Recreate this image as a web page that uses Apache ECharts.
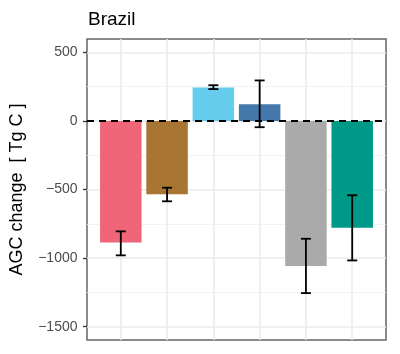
<!DOCTYPE html>
<html>
<head>
<meta charset="utf-8">
<title>Brazil AGC change</title>
<script src="https://cdn.jsdelivr.net/npm/echarts@6/dist/echarts.min.js"></script>
<style>
  html, body { margin: 0; padding: 0; background: #fff; }
  #chart { width: 400px; height: 354px; }
</style>
</head>
<body>
<div id="chart"></div>
<script type="text/javascript">
// data
var categories = [1, 2, 3, 4, 5, 6];
var values = [-887, -535, 244, 122, -1058, -778];
var errLow = [-980, -586, 232, -46, -1255, -1017];
var errHigh = [-805, -487, 260, 295, -859, -542];
var colors = ['#EE6677', '#A87533', '#66CCEE', '#4477AA', '#AAAAAA', '#009988'];
var yTicks = [-1500, -1000, -500, 0, 500];
var yMinor = [-1250, -750, -250, 250];

var chart = echarts.init(document.getElementById('chart'));
var font = 'Liberation Sans, Arial, sans-serif';

var gridLines = [];
yTicks.forEach(function (v) {
    gridLines.push({ yAxis: v, lineStyle: { color: '#EBEBEB', width: 1.6, type: 'solid' } });
});
yMinor.forEach(function (v) {
    gridLines.push({ yAxis: v, lineStyle: { color: '#F0F0F0', width: 0.9, type: 'solid' } });
});
categories.forEach(function (c) {
    gridLines.push({ xAxis: c, lineStyle: { color: '#EBEBEB', width: 1.6, type: 'solid' } });
});

chart.setOption({
    animation: false,
    title: {
        text: 'Brazil',
        left: 83,
        top: 5,
        textStyle: { fontFamily: font, fontSize: 19, fontWeight: 'normal', color: '#000' }
    },
    grid: {
        left: 87, top: 39, right: 14, bottom: 14,
        show: true, borderColor: '#666', borderWidth: 1.5, backgroundColor: '#fff'
    },
    xAxis: {
        type: 'value',
        min: 0.27, max: 6.73,
        axisLine: { show: false }, axisTick: { show: false },
        axisLabel: { show: false }, splitLine: { show: false }
    },
    yAxis: {
        type: 'value',
        min: -1597, max: 597,
        name: 'AGC change  [ Tg C ]',
        nameLocation: 'middle',
        nameGap: 61,
        nameTextStyle: { fontFamily: font, fontSize: 18, color: '#000' },
        axisLine: { show: false },
        axisTick: { show: true, length: 4, customValues: yTicks, lineStyle: { color: '#333', width: 1.3 } },
        axisLabel: {
            customValues: yTicks, margin: 9.5, fontFamily: font, fontSize: 14, color: '#4D4D4D',
            formatter: function (v) { return String(v).replace('-', '\u2212'); }
        },
        splitLine: { show: false }
    },
    series: [
        {
            type: 'line',
            data: [],
            silent: true,
            markLine: { silent: true, symbol: 'none', label: { show: false }, z: 0, data: gridLines }
        },
        {
            type: 'bar',
            barWidth: 41.5,
            z: 2,
            data: categories.map(function (c, i) {
                return { value: [c, values[i]], itemStyle: { color: colors[i] } };
            }),
            markLine: {
                silent: true, symbol: 'none', label: { show: false },
                data: [{ yAxis: 0, lineStyle: { color: '#000', width: 1.8, type: [7, 5] } }]
            }
        },
        {
            type: 'custom',
            z: 5,
            data: categories.map(function (c, i) { return [c, errLow[i], errHigh[i]]; }),
            renderItem: function (params, api) {
                var lo = api.coord([api.value(0), api.value(1)]);
                var hi = api.coord([api.value(0), api.value(2)]);
                var hw = 5;
                var st = { stroke: '#000', lineWidth: 1.8 };
                return {
                    type: 'group',
                    children: [
                        { type: 'line', shape: { x1: lo[0], y1: lo[1], x2: hi[0], y2: hi[1] }, style: st },
                        { type: 'line', shape: { x1: lo[0] - hw, y1: lo[1], x2: lo[0] + hw, y2: lo[1] }, style: st },
                        { type: 'line', shape: { x1: hi[0] - hw, y1: hi[1], x2: hi[0] + hw, y2: hi[1] }, style: st }
                    ]
                };
            }
        }
    ]
});
</script>
</body>
</html>
